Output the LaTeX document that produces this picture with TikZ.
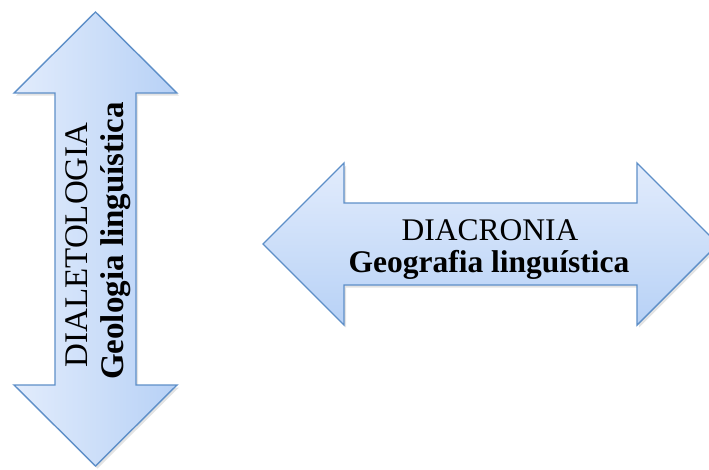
\documentclass[tikz,border=0pt]{standalone}
\usepackage{fontspec}
\setmainfont{Liberation Serif}
\usetikzlibrary{shadows}
\definecolor{arrowline}{HTML}{5E8FC8}
\definecolor{arrowlight}{HTML}{E2ECFC}
\definecolor{arrowdark}{HTML}{B7D1F6}
\tikzset{
  arrowshape/.style={draw=arrowline, line width=1.4pt, line join=miter,
    drop shadow={opacity=0.22, shadow xshift=2pt, shadow yshift=-2.5pt}},
  vshade/.style={arrowshape, left color=arrowlight, right color=arrowdark},
  hshade/.style={arrowshape, top color=arrowlight, bottom color=arrowdark},
  vlabel/.style={rotate=90, anchor=base, inner sep=0pt, font=\fontsize{33}{33}\selectfont},
  hlabel/.style={anchor=base, inner sep=0pt, font=\fontsize{31.5}{31.5}\selectfont}
}
\begin{document}
\begin{tikzpicture}[x=1pt,y=-1pt]
\useasboundingbox (0,0) rectangle (709,469);
\clip (0,0) rectangle (709,469);
% vertical double arrow
\path[vshade] (95.5,12) -- (177,93) -- (136,93) -- (136,385) -- (177,385)
  -- (95.5,466) -- (14,385) -- (55,385) -- (55,93) -- (14,93) -- cycle;
% horizontal double arrow
\path[hshade] (263,244) -- (344,163) -- (344,203) -- (637,203) -- (637,163)
  -- (718,244) -- (637,325) -- (637,285) -- (344,285) -- (344,325) -- cycle;
% labels
\node[vlabel] (dialetologia) at (87,245) {DIALETOLOGIA};
\node[vlabel] (geologia) at (123,241) {\bfseries Geologia linguística};
\node[hlabel] (diacronia) at (490,240) {DIACRONIA};
\node[hlabel] (geografia) at (489,272) {\bfseries Geografia linguística};
\end{tikzpicture}
\end{document}
